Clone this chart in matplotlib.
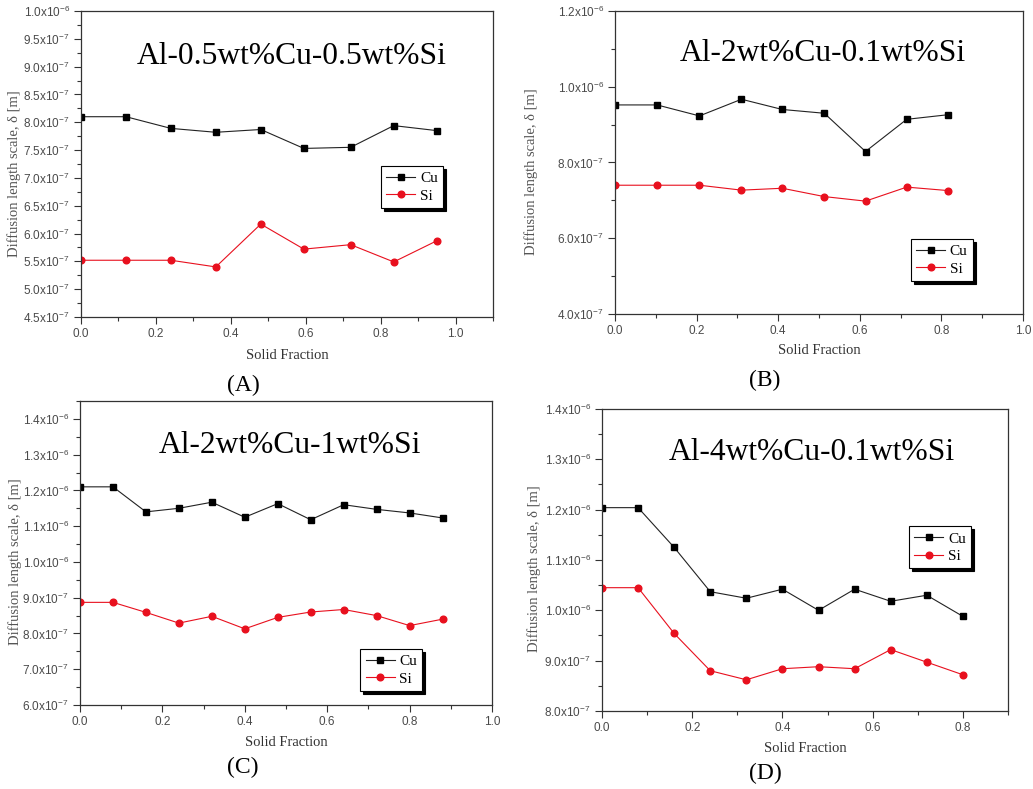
import numpy as np
import matplotlib
matplotlib.use("Agg")
import matplotlib.pyplot as plt
from matplotlib.ticker import MultipleLocator, FuncFormatter

# data (solid fraction vs diffusion length scale)
xa = [0.0, 0.12, 0.24, 0.36, 0.48, 0.595, 0.72, 0.835, 0.95]
cu_a = [8.10e-7, 8.10e-7, 7.89e-7, 7.82e-7, 7.87e-7, 7.53e-7, 7.55e-7, 7.94e-7, 7.85e-7]
si_a = [5.52e-7, 5.52e-7, 5.52e-7, 5.40e-7, 6.17e-7, 5.72e-7, 5.80e-7, 5.49e-7, 5.87e-7]

xb = [0.0, 0.103, 0.207, 0.31, 0.41, 0.513, 0.614, 0.715, 0.815]
cu_b = [9.52e-7, 9.52e-7, 9.23e-7, 9.67e-7, 9.40e-7, 9.30e-7, 8.29e-7, 9.14e-7, 9.26e-7]
si_b = [7.40e-7, 7.40e-7, 7.40e-7, 7.27e-7, 7.32e-7, 7.10e-7, 6.98e-7, 7.35e-7, 7.26e-7]

xc = [0.0, 0.08, 0.16, 0.24, 0.32, 0.40, 0.48, 0.56, 0.64, 0.72, 0.80, 0.88]
cu_c = [1.210e-6, 1.210e-6, 1.140e-6, 1.150e-6, 1.167e-6, 1.125e-6, 1.163e-6,
        1.118e-6, 1.160e-6, 1.147e-6, 1.137e-6, 1.123e-6]
si_c = [8.87e-7, 8.87e-7, 8.59e-7, 8.29e-7, 8.48e-7, 8.13e-7, 8.45e-7,
        8.60e-7, 8.67e-7, 8.50e-7, 8.22e-7, 8.40e-7]

xd = [0.0, 0.08, 0.16, 0.24, 0.32, 0.40, 0.48, 0.56, 0.64, 0.72, 0.80]
cu_d = [1.204e-6, 1.204e-6, 1.125e-6, 1.037e-6, 1.024e-6, 1.042e-6, 1.000e-6,
        1.042e-6, 1.018e-6, 1.030e-6, 0.988e-6]
si_d = [1.045e-6, 1.045e-6, 0.954e-6, 0.880e-6, 0.862e-6, 0.884e-6, 0.888e-6,
        0.884e-6, 0.922e-6, 0.897e-6, 0.872e-6]

titles = ["Al-0.5wt%Cu-0.5wt%Si", "Al-2wt%Cu-0.1wt%Si",
          "Al-2wt%Cu-1wt%Si", "Al-4wt%Cu-0.1wt%Si"]
tags = ["(A)", "(B)", "(C)", "(D)"]

W, H = 1033, 789
SERIF = "Liberation Serif"
SANS = "Liberation Sans"
TICKC = "#4a4a4a"
RED = "#e8101e"


def sci_fmt(v, pos):
    if v <= 0:
        return ""
    e = int(np.floor(np.log10(v) + 1e-9))
    m = v / 10 ** e
    return "%.1fx10$^{%d}$" % (m, e)


def px_axes(fig, x0, y0, x1, y1):
    return fig.add_axes([x0 / W, 1 - y1 / H, (x1 - x0) / W, (y1 - y0) / H])


fig = plt.figure(figsize=(W / 100, H / 100), dpi=100)
plt.rcParams["mathtext.fontset"] = "custom"
plt.rcParams["mathtext.rm"] = SANS
plt.rcParams["mathtext.it"] = SANS

# per panel: box px, x, cu, si, xlim, ylim, y major, y minor, legend pos, title pos, tag px, xlabel y px, ylabel x
panels = [
    ((81, 11, 493, 317), xa, cu_a, si_a, (0, 1.1), (4.5e-7, 1.0e-6), 0.5e-7, 0.25e-7,
     (0.728, 0.493), (0.512, 0.85), (243, 385), 356, -0.146),
    ((615, 11, 1023, 314), xb, cu_b, si_b, (0, 1.0), (4.0e-7, 1.2e-6), 2e-7, 1e-7,
     (0.725, 0.247), (0.51, 0.86), (765, 380), 351, -0.189),
    ((80, 401, 492, 705), xc, cu_c, si_c, (0, 1.0), (6.0e-7, 1.45e-6), 1e-7, 0.5e-7,
     (0.68, 0.184), (0.51, 0.855), (243, 767), 742, -0.141),
    ((602, 409, 1008, 711), xd, cu_d, si_d, (0, 0.9), (8.0e-7, 1.4e-6), 1e-7, 0.5e-7,
     (0.756, 0.611), (0.517, 0.857), (765, 773), 748, -0.150),
]

for i, (box, x, cu, si, xl, yl, ymaj, ymin, lpos, tpos, tagpos, xly, ylx) in enumerate(panels):
    ax = px_axes(fig, *box)
    ax.plot(x, cu, color="#222222", lw=0.8, marker="s", ms=4.6, mfc="black", mec="black", label="Cu")
    ax.plot(x, si, color=RED, lw=0.8, marker="o", ms=4.8, mfc=RED, mec=RED, label="Si")
    ax.set_xlim(*xl)
    ax.set_ylim(*yl)
    ax.xaxis.set_major_locator(MultipleLocator(0.2))
    ax.xaxis.set_minor_locator(MultipleLocator(0.1))
    ax.yaxis.set_major_locator(MultipleLocator(ymaj))
    ax.yaxis.set_minor_locator(MultipleLocator(ymin))
    ax.yaxis.set_major_formatter(FuncFormatter(sci_fmt))
    ax.xaxis.set_major_formatter(FuncFormatter(lambda v, p: "%.1f" % v))
    ax.tick_params(which="major", direction="out", length=5, width=0.8, color="#333333",
                   labelsize=8.5, labelcolor=TICKC, pad=3)
    ax.tick_params(which="minor", direction="out", length=3, width=0.8, color="#333333")
    for lab in ax.get_xticklabels() + ax.get_yticklabels():
        lab.set_fontfamily(SANS)
    for s in ax.spines.values():
        s.set_color("#333333")
        s.set_linewidth(0.9)
    ax.set_ylabel("Diffusion length scale, δ [m]", family=SERIF, fontsize=10.5, color="#555555")
    ax.yaxis.set_label_coords(ylx, 0.47)
    ax.text(tpos[0], tpos[1], titles[i], transform=ax.transAxes, ha="center", va="center",
            family=SERIF, fontsize=22.7, color="black")
    leg = ax.legend(loc="upper left", bbox_to_anchor=lpos, frameon=True, fancybox=False,
                    shadow={"color": "black", "alpha": 1}, prop={"family": SERIF, "size": 11},
                    handlelength=1.9, handletextpad=0.3, borderpad=0.35, labelspacing=0.25,
                    borderaxespad=0)
    leg.get_frame().set_edgecolor("black")
    leg.get_frame().set_linewidth(0.8)
    cx = (box[0] + box[2]) / 2
    fig.text(cx / W, 1 - xly / H, "Solid Fraction", ha="center", va="center",
             family=SERIF, fontsize=10.5, color="#333333")
    fig.text(tagpos[0] / W, 1 - tagpos[1] / H, tags[i], ha="center", va="center",
             family=SERIF, fontsize=17, color="black")

fig.savefig("out.png", dpi=100)
